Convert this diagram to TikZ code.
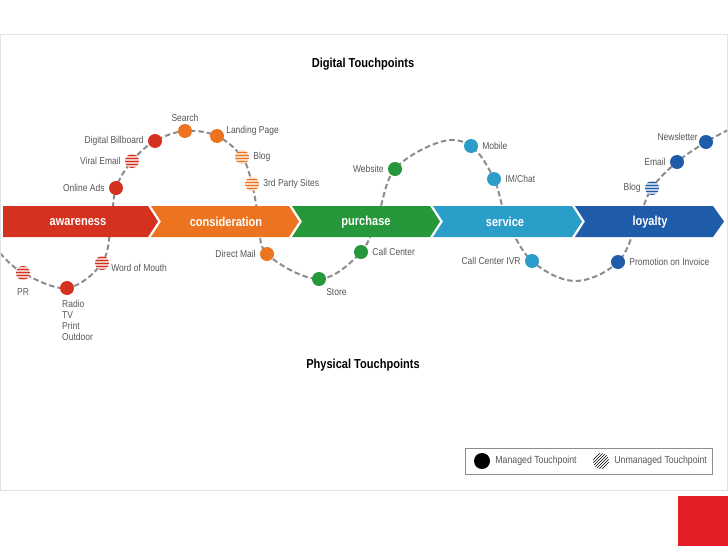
\documentclass[tikz,border=0pt]{standalone}
\usepackage{fontspec}
\setmainfont{Liberation Sans}[FakeStretch=0.85]
\usetikzlibrary{positioning,patterns,backgrounds}

\definecolor{awrred}{HTML}{D4311E}
\definecolor{conorange}{HTML}{EC7420}
\definecolor{purgreen}{HTML}{26973A}
\definecolor{serblue}{HTML}{2A9DC9}
\definecolor{loyblue}{HTML}{1E5BA8}
\definecolor{trailgray}{HTML}{8C8C8C}
\definecolor{txtgray}{HTML}{555555}
\definecolor{panelgray}{HTML}{E2E2E2}
\definecolor{slidered}{HTML}{E41E26}

\begin{document}
\begin{tikzpicture}[x=1pt,y=-1pt,
  touch/.style={circle,fill=#1,minimum size=14pt,inner sep=0pt},
  hatch/.style={circle,minimum size=14pt,inner sep=0pt,preaction={fill=#1!30},pattern=horizontal lines,pattern color=#1},
  tag/.style={font=\fontsize{10}{11}\selectfont,text=txtgray,inner sep=1pt},
  stage/.style={font=\fontsize{13}{15}\selectfont\bfseries,text=white},
  heading/.style={font=\fontsize{13}{15}\selectfont\bfseries},
  trail/.style={draw=trailgray,line width=2pt,dash pattern=on 5.5pt off 3pt}]
\useasboundingbox (0,0) rectangle (728,546);
\draw[panelgray] (0.5,34) rectangle (727.5,490);
\fill[slidered] (678,496) rectangle (728,546);

\node[heading] (digital) at (363,64) {Digital Touchpoints};
\node[heading] (physical) at (363,365) {Physical Touchpoints};

% awareness
\node[hatch=awrred] (pr) at (23,273) {};
\node[touch=awrred] (radio) at (67,288) {};
\node[hatch=awrred] (wom) at (102,263) {};
\node[touch=awrred] (onads) at (116,188) {};
\node[hatch=awrred] (viral) at (132,161) {};
\node[touch=awrred] (billb) at (155,141) {};
\node[tag,below=7pt of pr] (prtxt) {PR};
\node[tag,align=left,anchor=north west] (radiotxt) at ([xshift=-6pt,yshift=-4pt]radio.south) {Radio\\TV\\Print\\Outdoor};
\node[tag,right=3pt of wom.south east] (womtxt) {Word of Mouth};
\node[tag,left=3pt of onads] (onadstxt) {Online Ads};
\node[tag,left=3pt of viral] (viraltxt) {Viral Email};
\node[tag,left=3pt of billb] (billbtxt) {Digital Billboard};

% consideration
\node[touch=conorange] (search) at (185,131) {};
\node[touch=conorange] (landp) at (217,136) {};
\node[hatch=conorange] (blogc) at (242,157) {};
\node[hatch=conorange] (third) at (252,184) {};
\node[touch=conorange] (dmail) at (267,254) {};
\node[tag,above=1pt of search] (searchtxt) {Search};
\node[tag,right=3pt of landp.north east] (landptxt) {Landing Page};
\node[tag,right=3pt of blogc] (blogctxt) {Blog};
\node[tag,right=3pt of third] (thirdtxt) {3rd Party Sites};
\node[tag,left=3pt of dmail] (dmailtxt) {Direct Mail};

% purchase
\node[touch=purgreen] (store) at (319,279) {};
\node[touch=purgreen] (callc) at (361,252) {};
\node[touch=purgreen] (website) at (395,169) {};
\node[tag,below right=3pt and 1pt of store] (storetxt) {Store};
\node[tag,right=3pt of callc] (callctxt) {Call Center};
\node[tag,left=3pt of website] (websitetxt) {Website};

% service
\node[touch=serblue] (mobile) at (471,146) {};
\node[touch=serblue] (imchat) at (494,179) {};
\node[touch=serblue] (ivr) at (532,261) {};
\node[tag,right=3pt of mobile] (mobiletxt) {Mobile};
\node[tag,right=3pt of imchat] (imchattxt) {IM/Chat};
\node[tag,left=3pt of ivr] (ivrtxt) {Call Center IVR};

% loyalty
\node[touch=loyblue] (promo) at (618,262) {};
\node[hatch=loyblue] (blogl) at (652,188) {};
\node[touch=loyblue] (email) at (677,162) {};
\node[touch=loyblue] (news) at (706,142) {};
\node[tag,right=3pt of promo] (promotxt) {Promotion on Invoice};
\node[tag,left=3pt of blogl] (blogltxt) {Blog};
\node[tag,left=3pt of email] (emailtxt) {Email};
\node[tag,left=2pt of news.north west] (newstxt) {Newsletter};

% turning points of the trail
\coordinate (c0) at (0,253);
\coordinate (c1) at (111,225);
\coordinate (c2) at (259,220);
\coordinate (c3) at (378,215);
\coordinate (c4) at (440,142);
\coordinate (c5) at (507,220);
\coordinate (c6) at (575,281);
\coordinate (c7) at (638,220);
\coordinate (c8) at (728,130);

\begin{pgfonlayer}{background}
\draw[trail] plot[smooth,tension=0.6] coordinates {(c0) (pr.center) (radio.center) (wom.center) (c1) (onads.center) (viral.center) (billb.center) (search.center) (landp.center) (blogc.center) (third.center) (c2) (dmail.center) (store.center) (callc.center) (c3) (website.center) (c4) (mobile.center) (imchat.center) (c5) (ivr.center) (c6) (promo.center) (c7) (blogl.center) (email.center) (news.center) (c8)};
\fill[awrred] (3,206) -- (148,206) -- (158,221.5) -- (148,237) -- (3,237) -- cycle;
\fill[conorange] (151,206) -- (289,206) -- (299,221.5) -- (289,237) -- (151,237) -- (161,221.5) -- cycle;
\fill[purgreen] (292,206) -- (430,206) -- (440,221.5) -- (430,237) -- (292,237) -- (302,221.5) -- cycle;
\fill[serblue] (433,206) -- (572,206) -- (582,221.5) -- (572,237) -- (433,237) -- (443,221.5) -- cycle;
\fill[loyblue] (575,206) -- (713,206) -- (724,221.5) -- (713,237) -- (575,237) -- (585,221.5) -- cycle;
\end{pgfonlayer}

\node[stage] (awareness) at (78,222) {awareness};
\node[stage] (consideration) at (226,222) {consideration};
\node[stage] (purchase) at (366,222) {purchase};
\node[stage] (service) at (505,222) {service};
\node[stage] (loyalty) at (650,222) {loyalty};

% legend
\draw[trailgray] (465,448) rectangle (712,474);
\node[touch=black,minimum size=16pt] (mkey) at (482,461) {};
\node[tag,right=4pt of mkey,font=\fontsize{10.3}{11}\selectfont] (mkeytxt) {Managed Touchpoint};
\node[circle,minimum size=16pt,inner sep=0pt,pattern=north east lines] (ukey) at (601,461) {};
\node[tag,right=4pt of ukey,font=\fontsize{10.3}{11}\selectfont] (ukeytxt) {Unmanaged Touchpoint};
\end{tikzpicture}
\end{document}
